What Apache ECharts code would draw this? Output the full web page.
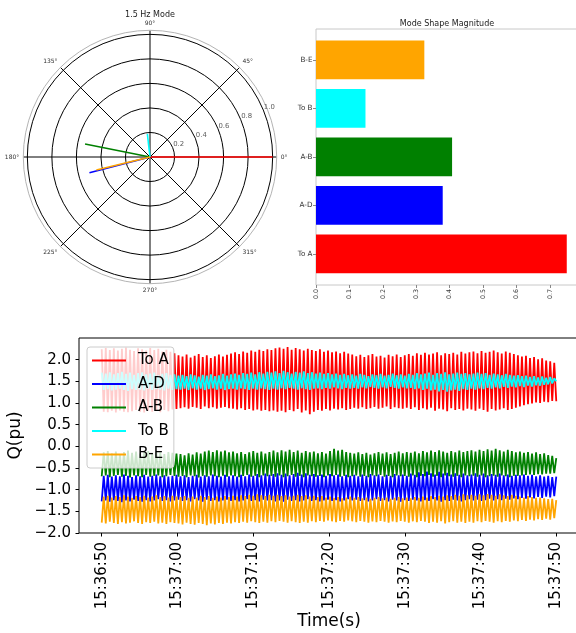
<!DOCTYPE html>
<html><head><meta charset="utf-8">
<script src="https://cdn.jsdelivr.net/npm/echarts@6/dist/echarts.min.js"></script>
<style>html,body{margin:0;padding:0;background:#fff}#c{width:576px;height:633px}</style>
</head><body><div id="c"></div>
<script>
// ---------- data ----------
const seriesNames = ['To A', 'A-D', 'A-B', 'To B', 'B-E'];
const polarMagnitude = [1.0, 0.51, 0.54, 0.19, 0.45];
const polarAngleDeg = [0, 194.5, 168.7, 96.5, 193.7];
const radialTicks = [0.2, 0.4, 0.6, 0.8, 1.0];
const barCategories = ['To A', 'A-D', 'A-B', 'To B', 'B-E'];
const barValues = [0.750, 0.379, 0.407, 0.148, 0.324];
const barTicks = [0.0, 0.1, 0.2, 0.3, 0.4, 0.5, 0.6, 0.7];
const timeTickLabels = ['15:36:50', '15:37:00', '15:37:10', '15:37:20', '15:37:30', '15:37:40', '15:37:50'];
const qTicks = [-2.0, -1.5, -1.0, -0.5, 0.0, 0.5, 1.0, 1.5, 2.0];
const startTime = '15:36:50';
const durationSec = 60;

const qToA = [2.24,0.80,2.27,0.79,2.22,0.82,2.26,0.78,2.21,0.83,2.25,0.80,2.28,0.79,2.23,0.81,2.20,0.84,2.26,0.80,2.24,0.78,2.21,0.82,2.27,0.80,2.22,0.83,2.25,0.79,2.19,0.84,2.23,0.81,2.18,0.85,2.15,0.86,
2.10,0.88,2.07,0.90,2.12,0.87,2.05,0.91,2.09,0.89,2.13,0.86,2.06,0.92,2.10,0.88,2.04,0.90,2.08,0.87,2.12,0.89,2.07,0.91,2.11,0.88,
2.14,0.87,2.17,0.85,2.13,0.88,2.19,0.84,2.16,0.86,2.21,0.83,2.18,0.85,2.23,0.82,2.20,0.84,2.24,0.81,
2.22,0.83,2.26,0.80,2.28,0.82,2.25,0.79,2.29,0.84,2.23,0.81,2.27,0.86,2.24,0.78,2.21,0.83,2.25,0.74,2.22,0.80,
2.20,0.84,2.24,0.82,2.18,0.86,2.21,0.83,2.17,0.87,2.19,0.85,2.15,0.88,2.18,0.84,2.14,0.86,
2.12,0.89,2.08,0.87,2.11,0.90,2.06,0.86,2.10,0.88,2.13,0.91,2.07,0.87,2.09,0.89,2.05,0.92,2.11,0.86,2.08,0.90,2.12,0.88,2.06,0.87,2.10,0.89,
2.13,0.86,2.09,0.90,2.15,0.84,2.11,0.88,2.16,0.85,2.12,0.89,2.14,0.82,2.17,0.87,2.10,0.85,2.15,0.81,2.13,0.88,2.16,0.84,2.12,0.86,2.18,0.83,2.14,0.87,
2.17,0.85,2.19,0.82,2.15,0.87,2.20,0.84,2.16,0.80,2.18,0.86,2.21,0.83,2.17,0.85,2.14,0.88,2.19,0.84,2.16,0.86,2.13,0.89,
2.10,0.92,2.07,0.95,2.09,0.97,2.04,0.99,2.06,1.01,2.01,1.00,2.03,1.03,1.98,1.02,1.96,1.05,1.93,1.04];

const qAD = [-1.27,-0.68,-1.25,-0.66,-1.28,-0.70,-1.24,-0.67,-1.26,-0.69,-1.29,-0.65,-1.25,-0.68,-1.27,-0.71,-1.23,-0.67,-1.26,-0.69,-1.28,-0.66,-1.24,-0.70,-1.27,-0.68,-1.25,-0.65,-1.22,-0.69,-1.26,-0.67,-1.24,-0.70,-1.27,-0.68,-1.25,-0.66,
-1.23,-0.69,-1.26,-0.67,-1.24,-0.71,-1.27,-0.68,-1.22,-0.66,-1.25,-0.70,-1.28,-0.67,-1.23,-0.69,-1.26,-0.65,-1.24,-0.68,-1.27,-0.70,-1.25,-0.66,-1.23,-0.69,
-1.26,-0.67,-1.24,-0.70,-1.27,-0.66,-1.25,-0.69,-1.22,-0.65,-1.26,-0.68,-1.24,-0.64,-1.27,-0.67,-1.23,-0.63,-1.25,-0.66,
-1.24,-0.64,-1.27,-0.62,-1.25,-0.66,-1.28,-0.63,-1.23,-0.67,-1.26,-0.64,-1.24,-0.61,-1.27,-0.65,-1.25,-0.62,-1.22,-0.66,-1.26,-0.64,
-1.24,-0.67,-1.27,-0.65,-1.25,-0.68,-1.23,-0.64,-1.26,-0.67,-1.24,-0.65,-1.27,-0.69,-1.25,-0.66,-1.22,-0.68,
-1.25,-0.66,-1.23,-0.69,-1.26,-0.65,-1.24,-0.68,-1.27,-0.64,-1.25,-0.67,-1.22,-0.65,-1.26,-0.69,-1.24,-0.66,-1.27,-0.68,-1.23,-0.64,-1.25,-0.67,-1.28,-0.65,-1.24,-0.68,
-1.26,-0.63,-1.23,-0.66,-1.25,-0.60,-1.27,-0.64,-1.24,-0.58,-1.26,-0.62,-1.22,-0.65,-1.25,-0.59,-1.28,-0.63,-1.24,-0.61,-1.26,-0.65,-1.23,-0.62,-1.25,-0.66,-1.27,-0.63,-1.24,-0.67,
-1.22,-0.65,-1.25,-0.62,-1.23,-0.66,-1.26,-0.63,-1.24,-0.67,-1.21,-0.64,-1.25,-0.66,-1.22,-0.63,-1.24,-0.67,-1.21,-0.65,-1.23,-0.68,-1.20,-0.66,
-1.22,-0.67,-1.19,-0.65,-1.21,-0.68,-1.18,-0.66,-1.20,-0.69,-1.17,-0.67,-1.19,-0.70,-1.16,-0.68,-1.18,-0.71,-1.15,-0.70];

const qAB = [-0.69,-0.14,-0.67,-0.11,-0.71,-0.16,-0.68,-0.12,-0.66,-0.18,-0.70,-0.13,-0.68,-0.10,-0.72,-0.15,-0.67,-0.12,-0.69,-0.17,-0.71,-0.13,-0.66,-0.11,-0.70,-0.16,-0.68,-0.12,-0.67,-0.14,-0.71,-0.18,-0.69,-0.13,-0.66,-0.15,-0.68,-0.17,
-0.70,-0.18,-0.68,-0.21,-0.71,-0.16,-0.67,-0.19,-0.69,-0.14,-0.72,-0.17,-0.68,-0.12,-0.70,-0.10,-0.67,-0.13,-0.69,-0.09,-0.71,-0.12,-0.68,-0.10,-0.70,-0.14,
-0.67,-0.12,-0.69,-0.16,-0.71,-0.13,-0.68,-0.18,-0.66,-0.14,-0.70,-0.11,-0.68,-0.15,-0.71,-0.12,-0.67,-0.17,-0.69,-0.13,
-0.68,-0.10,-0.70,-0.14,-0.67,-0.09,-0.71,-0.12,-0.69,-0.08,-0.66,-0.13,-0.70,-0.10,-0.68,-0.15,-0.71,-0.11,-0.67,-0.14,-0.69,-0.12,
-0.70,-0.16,-0.68,-0.13,-0.71,-0.17,-0.67,-0.11,-0.69,-0.06,-0.66,-0.10,-0.70,-0.08,-0.68,-0.13,-0.71,-0.15,
-0.69,-0.17,-0.67,-0.14,-0.70,-0.18,-0.68,-0.15,-0.71,-0.19,-0.67,-0.16,-0.69,-0.13,-0.66,-0.17,-0.70,-0.14,-0.68,-0.18,-0.71,-0.15,-0.67,-0.12,-0.69,-0.16,-0.68,-0.13,
-0.70,-0.15,-0.67,-0.12,-0.71,-0.16,-0.68,-0.11,-0.69,-0.14,-0.66,-0.10,-0.70,-0.13,-0.68,-0.09,-0.71,-0.12,-0.67,-0.15,-0.69,-0.11,-0.70,-0.14,-0.68,-0.10,-0.71,-0.13,-0.67,-0.11,
-0.69,-0.09,-0.68,-0.12,-0.70,-0.08,-0.67,-0.11,-0.71,-0.07,-0.69,-0.10,-0.68,-0.06,-0.70,-0.09,-0.67,-0.12,-0.69,-0.08,-0.71,-0.11,-0.68,-0.14,
-0.68,-0.12,-0.67,-0.15,-0.66,-0.13,-0.65,-0.17,-0.66,-0.14,-0.64,-0.18,-0.65,-0.16,-0.63,-0.20,-0.63,-0.22,-0.62,-0.27];

const qToB = [1.70,1.30,1.68,1.32,1.71,1.29,1.66,1.31,1.69,1.33,1.72,1.30,1.67,1.28,1.70,1.32,1.65,1.30,1.69,1.31,1.71,1.29,1.66,1.33,1.68,1.30,1.70,1.32,1.64,1.31,1.67,1.29,1.69,1.33,1.65,1.30,1.66,1.32,
1.63,1.31,1.65,1.33,1.62,1.30,1.66,1.34,1.64,1.31,1.61,1.33,1.65,1.30,1.63,1.32,1.66,1.34,1.62,1.31,1.64,1.33,1.67,1.30,1.63,1.32,
1.66,1.33,1.68,1.31,1.65,1.34,1.69,1.32,1.67,1.30,1.70,1.33,1.66,1.31,1.71,1.34,1.68,1.32,1.72,1.30,
1.70,1.33,1.73,1.31,1.69,1.34,1.74,1.32,1.71,1.35,1.68,1.33,1.72,1.31,1.70,1.34,1.73,1.32,1.69,1.30,1.71,1.33,
1.68,1.34,1.70,1.32,1.67,1.35,1.69,1.33,1.66,1.36,1.68,1.34,1.65,1.32,1.67,1.35,1.64,1.33,
1.66,1.35,1.63,1.33,1.67,1.36,1.65,1.34,1.62,1.37,1.66,1.35,1.64,1.33,1.67,1.36,1.63,1.34,1.65,1.37,1.68,1.35,1.64,1.33,1.66,1.36,1.63,1.34,
1.67,1.35,1.65,1.32,1.69,1.34,1.66,1.30,1.68,1.33,1.70,1.29,1.65,1.31,1.69,1.27,1.67,1.30,1.71,1.26,1.66,1.29,1.68,1.31,1.70,1.28,1.67,1.32,1.69,1.30,
1.66,1.33,1.68,1.31,1.70,1.34,1.67,1.32,1.69,1.35,1.65,1.33,1.68,1.36,1.66,1.34,1.64,1.37,1.67,1.35,1.65,1.38,1.63,1.36,
1.64,1.39,1.62,1.37,1.63,1.40,1.60,1.38,1.62,1.41,1.59,1.40,1.61,1.42,1.58,1.43,1.60,1.45,1.57,1.50];

const qBE = [-1.76,-1.16,-1.78,-1.14,-1.74,-1.18,-1.77,-1.15,-1.79,-1.17,-1.75,-1.13,-1.78,-1.16,-1.76,-1.19,-1.73,-1.15,-1.77,-1.17,-1.79,-1.14,-1.75,-1.18,-1.77,-1.16,-1.74,-1.13,-1.78,-1.17,-1.76,-1.15,-1.79,-1.18,-1.75,-1.14,-1.77,-1.16,
-1.78,-1.17,-1.80,-1.15,-1.76,-1.19,-1.79,-1.16,-1.81,-1.18,-1.77,-1.14,-1.79,-1.17,-1.82,-1.15,-1.78,-1.19,-1.80,-1.16,-1.77,-1.18,-1.79,-1.15,-1.76,-1.17,
-1.78,-1.14,-1.75,-1.16,-1.77,-1.13,-1.74,-1.15,-1.76,-1.12,-1.73,-1.14,-1.75,-1.11,-1.77,-1.13,-1.74,-1.15,-1.76,-1.12,
-1.73,-1.14,-1.75,-1.12,-1.72,-1.15,-1.74,-1.13,-1.76,-1.16,-1.73,-1.14,-1.75,-1.12,-1.77,-1.15,-1.74,-1.13,-1.76,-1.16,-1.73,-1.14,
-1.75,-1.17,-1.72,-1.15,-1.74,-1.18,-1.71,-1.16,-1.73,-1.19,-1.75,-1.17,-1.72,-1.20,-1.74,-1.18,-1.71,-1.16,
-1.73,-1.19,-1.75,-1.17,-1.72,-1.20,-1.74,-1.18,-1.76,-1.21,-1.73,-1.19,-1.75,-1.17,-1.72,-1.20,-1.74,-1.18,-1.76,-1.21,-1.73,-1.19,-1.75,-1.17,-1.72,-1.20,-1.74,-1.18,
-1.76,-1.20,-1.73,-1.17,-1.75,-1.19,-1.72,-1.16,-1.74,-1.18,-1.77,-1.15,-1.74,-1.17,-1.76,-1.14,-1.73,-1.16,-1.78,-1.13,-1.75,-1.15,-1.73,-1.12,-1.76,-1.14,-1.74,-1.11,-1.77,-1.13,
-1.74,-1.12,-1.76,-1.14,-1.73,-1.11,-1.75,-1.13,-1.72,-1.10,-1.74,-1.12,-1.76,-1.14,-1.73,-1.11,-1.75,-1.13,-1.72,-1.15,-1.74,-1.12,-1.71,-1.14,
-1.73,-1.16,-1.70,-1.18,-1.72,-1.15,-1.69,-1.17,-1.71,-1.19,-1.68,-1.18,-1.70,-1.20,-1.67,-1.22,-1.69,-1.21,-1.66,-1.24];

// ---------- styling / build ----------
const colors = ['#ff0000', '#0000ff', '#008000', '#00ffff', '#ffa500'];
const FONT = 'DejaVu Sans';
const toSec = s => { const p = s.split(':').map(Number); return p[0] * 3600 + p[1] * 60 + p[2]; };
const pad2 = n => String(n).padStart(2, '0');
const toHMS = v => { v = Math.round(v); return pad2(Math.floor(v / 3600)) + ':' + pad2(Math.floor(v / 60) % 60) + ':' + pad2(v % 60); };
const t0 = toSec(startTime);
const timeSeriesValues = [qToA, qAD, qAB, qToB, qBE];
const timeTickSec = timeTickLabels.map(toSec);
const fmtQ = v => (v < 0 ? '\u2212' : '') + Math.abs(v).toFixed(1);

const series = [];
seriesNames.forEach((n, i) => {
  series.push({
    type: 'line', name: 'polar ' + n, coordinateSystem: 'polar', polarIndex: 0,
    data: [[0, polarAngleDeg[i]], [polarMagnitude[i], polarAngleDeg[i]]],
    symbol: 'none', lineStyle: { color: colors[i], width: 1.6 }, itemStyle: { color: colors[i] },
    animation: false, silent: true, z: 3
  });
});
series.push({
  type: 'scatter', name: 'rlabels', coordinateSystem: 'polar', polarIndex: 0,
  data: radialTicks.map(r => [r, 22.5]), symbolSize: 1, itemStyle: { color: 'rgba(0,0,0,0)' },
  label: { show: true, position: 'right', distance: 0, offset: [0, -3], fontSize: 6.9, color: '#333', fontFamily: FONT,
    formatter: p => p.value[0].toFixed(1) },
  animation: false, silent: true, z: 4
});
series.push({
  type: 'bar', name: 'bars', xAxisIndex: 1, yAxisIndex: 1,
  data: barValues.map((v, i) => ({ value: v, itemStyle: { color: colors[i] } })),
  barCategoryGap: '20%', animation: false, silent: true
});
seriesNames.forEach((n, i) => {
  const vals = timeSeriesValues[i];
  const dt = durationSec / (vals.length - 1);
  series.push({
    type: 'line', name: n, xAxisIndex: 2, yAxisIndex: 2,
    data: vals.map((v, k) => [t0 + k * dt, v]),
    symbol: 'none', lineStyle: { color: colors[i], width: 1.8 }, itemStyle: { color: colors[i] },
    animation: false, silent: true, z: 2
  });
});

const option = {
  animation: false,
  backgroundColor: '#ffffff',
  textStyle: { fontFamily: FONT },
  title: [
    { text: '1.5 Hz Mode', left: 150, top: 11, textAlign: 'center', padding: 0,
      textStyle: { fontSize: 8, fontWeight: 'normal', color: '#222', fontFamily: FONT } },
    { text: 'Mode Shape Magnitude', left: 447, top: 20, textAlign: 'center', padding: 0,
      textStyle: { fontSize: 8, fontWeight: 'normal', color: '#222', fontFamily: FONT } }
  ],
  polar: [{ center: [150, 157], radius: 126.7 }],
  angleAxis: [{
    polarIndex: 0, type: 'value', min: 0, max: 360, interval: 45, startAngle: 0, clockwise: false,
    axisLine: { show: true, lineStyle: { color: '#b4b4b4', width: 1 } },
    axisTick: { show: false },
    axisLabel: { show: true, fontSize: 6, color: '#333', margin: 4, fontFamily: FONT,
      formatter: v => (v >= 360 ? '' : v + '\u00b0') },
    splitLine: { show: true, lineStyle: { color: '#000', width: 1 } }
  }],
  radiusAxis: [{
    polarIndex: 0, type: 'value', min: 0, max: 1.033, interval: 0.2,
    axisLine: { show: false }, axisTick: { show: false }, axisLabel: { show: false },
    splitLine: { show: true, lineStyle: { width: 1, color: ['#000', '#000', '#000', '#000', '#000', '#000', 'rgba(0,0,0,0)'] } }
  }],
  grid: [
    { left: 316, right: -3.3, top: 29, height: 256, show: true, borderColor: '#c8c8c8', borderWidth: 1, backgroundColor: 'transparent', outerBoundsMode: 'none', containLabel: false },
    { left: 316, right: -3.3, top: 35.7, height: 242.5, show: false, outerBoundsMode: 'none', containLabel: false },
    { left: 79, right: -3, top: 338, height: 195, show: true, borderColor: '#000', borderWidth: 1, backgroundColor: 'transparent', outerBoundsMode: 'none', containLabel: false }
  ],
  xAxis: [
    { gridIndex: 0, type: 'value', min: 0, max: 0.7875, position: 'bottom',
      axisLine: { show: false, onZero: false }, splitLine: { show: false },
      axisTick: { show: true, length: 3, lineStyle: { color: '#888' }, customValues: barTicks },
      axisLabel: { show: true, rotate: 90, fontSize: 6.3, color: '#333', margin: 4, fontFamily: FONT,
        customValues: barTicks, formatter: v => v.toFixed(1) } },
    { gridIndex: 1, type: 'value', min: 0, max: 0.7875, show: false },
    { gridIndex: 2, type: 'value', min: t0 - 3, max: t0 + durationSec + 3, position: 'bottom',
      axisLine: { show: false, onZero: false }, splitLine: { show: false },
      axisTick: { show: true, length: 3.5, lineStyle: { color: '#000' }, customValues: timeTickSec },
      axisLabel: { show: true, rotate: 90, fontSize: 15, color: '#000', margin: 9, fontFamily: FONT,
        customValues: timeTickSec, formatter: v => toHMS(v) },
      name: 'Time(s)', nameLocation: 'middle', nameGap: 78,
      nameTextStyle: { fontSize: 17, color: '#000', fontFamily: FONT } }
  ],
  yAxis: [
    { gridIndex: 0, type: 'value', min: 0, max: 1, show: false },
    { gridIndex: 1, type: 'category', data: barCategories,
      axisLine: { show: false, onZero: false },
      axisTick: { show: true, alignWithLabel: true, length: 3, lineStyle: { color: '#888' } },
      axisLabel: { show: true, fontSize: 7.2, color: '#333', margin: 3.5, fontFamily: FONT } },
    { gridIndex: 2, type: 'value', min: -2, max: 2.5, position: 'left',
      axisLine: { show: false, onZero: false }, splitLine: { show: false },
      axisTick: { show: true, length: 3.5, lineStyle: { color: '#000' }, customValues: qTicks },
      axisLabel: { show: true, fontSize: 15, color: '#000', margin: 8, fontFamily: FONT,
        customValues: qTicks, formatter: v => fmtQ(v) },
      name: 'Q(pu)', nameLocation: 'middle', nameGap: 45, nameRotate: 90,
      nameTextStyle: { fontSize: 17, color: '#000', fontFamily: FONT } }
  ],
  legend: {
    data: seriesNames.map(n => ({ name: n, icon: 'rect' })),
    orient: 'vertical', left: 87, top: 347,
    padding: [6, 5, 6, 5], itemGap: 8.5, itemWidth: 34, itemHeight: 2,
    backgroundColor: 'rgba(255,255,255,0.8)', borderColor: '#cccccc', borderWidth: 1, borderRadius: 3,
    selectedMode: false,
    textStyle: { fontSize: 15, color: '#000', fontFamily: FONT, padding: [0, 0, 0, 7] }
  },
  series: series
};

const chart = echarts.init(document.getElementById('c'), null, { renderer: 'canvas', width: 576, height: 633 });
chart.setOption(option);
</script>
</body></html>
